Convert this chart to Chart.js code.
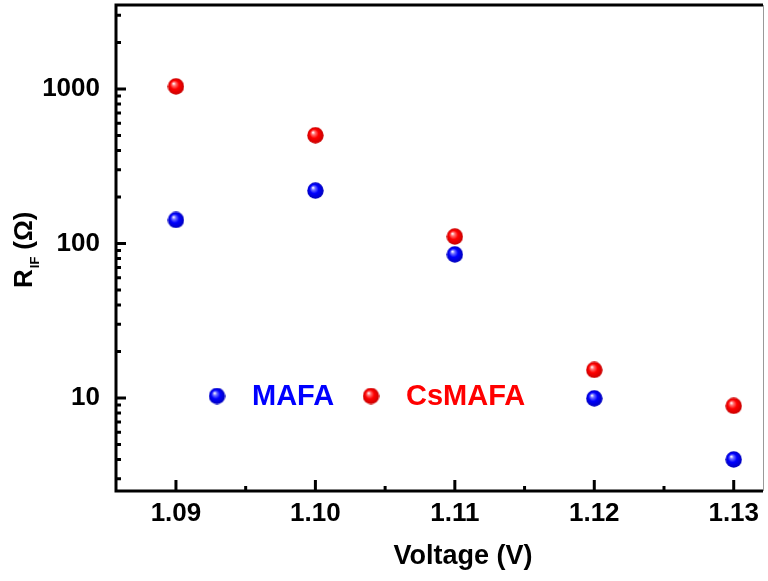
<!DOCTYPE html>
<html>
<head>
<meta charset="utf-8">
<script src="https://cdn.jsdelivr.net/npm/chart.js@4/dist/chart.umd.min.js"></script>
<style>
  html, body { margin: 0; padding: 0; background: #fff; }
  #wrap { width: 768px; height: 581px; }
</style>
</head>
<body>
<div id="wrap"><canvas id="rifChart"></canvas></div>
<script>
// data
const voltages = [1.09, 1.10, 1.11, 1.12, 1.13];
const mafaValues = [142, 220, 85, 9.95, 4.0];
const csmafaValues = [1040, 502, 111, 15.2, 8.9];
const seriesNames = ['MAFA', 'CsMAFA'];
const seriesColors = ['#0000ff', '#ff0000'];
const xTickValues = [1.09, 1.10, 1.11, 1.12, 1.13];
const xMinorValues = [1.095, 1.105, 1.115, 1.125];
const yTickValues = [10, 100, 1000];

const FONT = "'Liberation Sans', Arial, sans-serif";

// shiny ball used as point marker
function makeBall(color, light, edge) {
    const c = document.createElement('canvas');
    c.width = 17; c.height = 17;
    const g = c.getContext('2d');
    const grad = g.createRadialGradient(6, 5.5, 0.3, 8.5, 8.5, 8.5);
    grad.addColorStop(0, '#ffffff');
    grad.addColorStop(0.2, light);
    grad.addColorStop(0.5, color);
    grad.addColorStop(1, edge);
    g.fillStyle = grad;
    g.beginPath();
    g.arc(8.5, 8.5, 8.2, 0, Math.PI * 2);
    g.fill();
    return c;
}
const balls = [makeBall('#0000ff', '#7070ff', '#0000b8'), makeBall('#ff0000', '#ff7070', '#c40000')];

function toPoints(vals) {
    return voltages.map((v, i) => ({ x: v, y: vals[i] }));
}

// frame, inward ticks, axis titles and in-plot legend
const decorPlugin = {
    id: 'decor',
    beforeDatasetsDraw(chart) {
        const ctx = chart.ctx;
        const a = chart.chartArea;
        const xs = chart.scales.x, ys = chart.scales.y;
        ctx.save();
        ctx.strokeStyle = '#000';
        ctx.lineWidth = 3;
        ctx.beginPath();
        ctx.moveTo(a.left, a.top); ctx.lineTo(a.right, a.top);
        ctx.moveTo(a.left, a.top - 1.5); ctx.lineTo(a.left, a.bottom + 1.5);
        ctx.moveTo(a.left - 1.5, a.bottom); ctx.lineTo(a.right, a.bottom);
        ctx.stroke();
        ctx.strokeStyle = '#999';
        ctx.lineWidth = 1;
        ctx.beginPath();
        ctx.moveTo(a.right + 0.5, a.top); ctx.lineTo(a.right + 0.5, a.bottom);
        ctx.stroke();

        ctx.strokeStyle = '#000';
        ctx.lineWidth = 3;
        ctx.beginPath();
        xTickValues.forEach(v => {
            const p = xs.getPixelForValue(v);
            ctx.moveTo(p, a.bottom); ctx.lineTo(p, a.bottom - 11);
        });
        xMinorValues.forEach(v => {
            const p = xs.getPixelForValue(v);
            ctx.moveTo(p, a.bottom); ctx.lineTo(p, a.bottom - 5);
        });
        for (let d = 1; d <= 1000; d *= 10) {
            for (let m = 1; m <= 9; m++) {
                const v = m * d;
                if (v < ys.min || v > ys.max) continue;
                const p = ys.getPixelForValue(v);
                ctx.moveTo(a.left, p);
                ctx.lineTo(a.left + (m === 1 ? 10 : 5), p);
            }
        }
        ctx.stroke();

        // x title
        ctx.fillStyle = '#000';
        ctx.font = 'bold 27px ' + FONT;
        ctx.textAlign = 'center';
        ctx.textBaseline = 'alphabetic';
        ctx.fillText('Voltage (V)', 463, 564);

        // y title with subscript
        ctx.translate(32, 288);
        ctx.rotate(-Math.PI / 2);
        ctx.textAlign = 'left';
        ctx.font = 'bold 26px ' + FONT;
        ctx.fillText('R', 0, 0);
        let w = ctx.measureText('R').width;
        ctx.font = 'bold 13px ' + FONT;
        ctx.fillText('IF', w + 1, 7);
        w += ctx.measureText('IF').width + 8;
        ctx.font = 'bold 26px ' + FONT;
        ctx.fillText('(\u03A9)', w, 0);
        ctx.restore();
    },
    afterDatasetsDraw(chart) {
        const ctx = chart.ctx;
        const legendX = [217, 371];
        const legendY = 396;
        ctx.save();
        ctx.font = 'bold 29px ' + FONT;
        ctx.textBaseline = 'middle';
        ctx.textAlign = 'left';
        chart.data.datasets.forEach((ds, i) => {
            ctx.drawImage(balls[i], legendX[i] - 8.5, legendY - 8.5);
            ctx.fillStyle = seriesColors[i];
            ctx.fillText(ds.label, legendX[i] + 35, legendY + 1);
        });
        ctx.restore();
    }
};

new Chart(document.getElementById('rifChart'), {
    type: 'scatter',
    data: {
        datasets: [
            { label: seriesNames[0], data: toPoints(mafaValues), pointStyle: balls[0], backgroundColor: seriesColors[0], borderColor: seriesColors[0] },
            { label: seriesNames[1], data: toPoints(csmafaValues), pointStyle: balls[1], backgroundColor: seriesColors[1], borderColor: seriesColors[1] }
        ]
    },
    options: {
        responsive: true,
        maintainAspectRatio: false,
        animation: false,
        layout: { padding: { top: 5, right: 2, left: 0, bottom: 0 } },
        plugins: { legend: { display: false }, tooltip: { enabled: false } },
        scales: {
            x: {
                type: 'linear',
                min: 1.0857,
                max: 1.1321,
                afterBuildTicks: s => { s.ticks = xTickValues.map(v => ({ value: v })); },
                afterFit: s => { s.height = 90; s.paddingLeft = 0; s.paddingRight = 0; },
                grid: { display: false, drawTicks: false },
                border: { display: false },
                ticks: {
                    color: '#000',
                    padding: 7,
                    font: { family: FONT, size: 26, weight: 'bold' },
                    callback: v => v.toFixed(2)
                }
            },
            y: {
                type: 'logarithmic',
                min: 2.5,
                max: 3500,
                afterBuildTicks: s => { s.ticks = yTickValues.map(v => ({ value: v })); },
                afterFit: s => { s.width = 116; s.paddingTop = 0; s.paddingBottom = 0; },
                grid: { display: false, drawTicks: false },
                border: { display: false },
                ticks: {
                    color: '#000',
                    padding: 16,
                    font: { family: FONT, size: 26, weight: 'bold' },
                    callback: v => String(v)
                }
            }
        }
    },
    plugins: [decorPlugin]
});
</script>
</body>
</html>
